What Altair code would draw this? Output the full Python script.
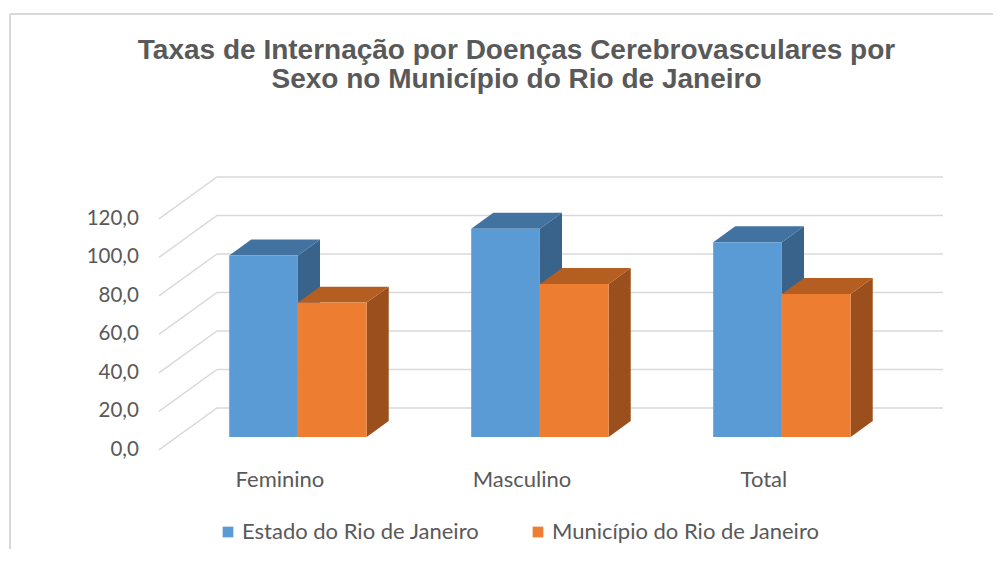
import altair as alt
import pandas as pd

# ---------------- data ----------------
categories = ["Feminino", "Masculino", "Total"]
series_names = ["Estado do Rio de Janeiro", "Município do Rio de Janeiro"]
estado = [94.3, 108.2, 101.2]
municipio = [69.8, 79.5, 74.3]
tick_values = [0, 20, 40, 60, 80, 100, 120]
tick_labels = ["0,0", "20,0", "40,0", "60,0", "80,0", "100,0", "120,0"]
title_lines = ["Taxas de Internação por Doenças Cerebrovasculares por",
               "Sexo no Município do Rio de Janeiro"]

# ---------------- styling / projection ----------------
front_colors = ["#5B9BD5", "#ED7D31"]
top_colors = ["#4272A0", "#B45E21"]
side_colors = ["#39638A", "#9A4F1D"]
TEXT = "#595959"
GRID = "#D9D9D9"
W, H = 983, 535

DX = 0.24      # horizontal shift (category-slot units) per unit of depth
DY = 21.8      # vertical shift (value units) per unit of depth
Z_FRONT = 0.69
Z_BACK = 0.31
BAR_W = 0.284
WALL_RIGHT = 3.0


def px(s, z):
    return s - DX * z


def py(v, z):
    return v - DY * z


xs = alt.Scale(domain=[-207 / 242, (W - 207) / 242], nice=False, zero=False)
ys = alt.Scale(domain=[(394 - H) / 1.925, 394 / 1.925], nice=False, zero=False)

front_rows, side_rows, top_rows = [], [], []
for si, (name, vals) in enumerate(zip(series_names, [estado, municipio])):
    for ci, (cat, v) in enumerate(zip(categories, vals)):
        bid = f"{si}-{ci}"
        x1 = ci + 0.5 - BAR_W if si == 0 else ci + 0.5
        x2 = x1 + BAR_W
        front_rows.append(dict(series=name, category=cat, value=v,
                               x=px(x1, Z_FRONT), x2=px(x2, Z_FRONT),
                               y=py(0, Z_FRONT), y2=py(v, Z_FRONT)))
        # right side face
        side_rows.append(dict(bar=bid, fill=side_colors[si], x=px(x2, Z_FRONT),
                              y=py(0, Z_FRONT), y2=py(v, Z_FRONT)))
        side_rows.append(dict(bar=bid, fill=side_colors[si], x=px(x2, Z_BACK),
                              y=py(0, Z_BACK), y2=py(v, Z_BACK)))
        # top face
        tf, tb = py(v, Z_FRONT), py(v, Z_BACK)
        top_rows.append(dict(bar=bid, fill=top_colors[si], x=px(x1, Z_FRONT), y=tf, y2=tf))
        top_rows.append(dict(bar=bid, fill=top_colors[si], x=px(x1, Z_BACK), y=tf, y2=tb))
        top_rows.append(dict(bar=bid, fill=top_colors[si], x=px(x2, Z_FRONT), y=tf, y2=tb))
        top_rows.append(dict(bar=bid, fill=top_colors[si], x=px(x2, Z_BACK), y=tb, y2=tb))

grid_rows = []
for t in tick_values:
    grid_rows.append(dict(tick=t, ord=0, x=px(0, 1), y=py(t, 1)))
    grid_rows.append(dict(tick=t, ord=1, x=0, y=t))
    grid_rows.append(dict(tick=t, ord=2, x=WALL_RIGHT, y=t))

ylab_df = pd.DataFrame(dict(label=tick_labels,
                            x=[px(0, 1)] * len(tick_values),
                            y=[py(t, 1) for t in tick_values]))
cat_df = pd.DataFrame(dict(category=categories,
                           x=[px(i + 0.5, 1) for i in range(len(categories))]))

front_df = pd.DataFrame(front_rows)
side_df = pd.DataFrame(side_rows)
top_df = pd.DataFrame(top_rows)
grid_df = pd.DataFrame(grid_rows)
one = pd.DataFrame({"k": [0]})

X = lambda f="x:Q": alt.X(f, scale=xs, axis=None)
Y = lambda f="y:Q": alt.Y(f, scale=ys, axis=None, stack=None)

border_top = alt.Chart(one).mark_rule(color=GRID, strokeWidth=2).encode(
    x=alt.value(0), x2=alt.value(W), y=alt.value(0))
border_left = alt.Chart(one).mark_rule(color=GRID, strokeWidth=2).encode(
    x=alt.value(0), y=alt.value(0), y2=alt.value(H))

grid = alt.Chart(grid_df).mark_line(color=GRID, strokeWidth=1.5).encode(
    x=X(), y=Y(), detail="tick:N", order="ord:Q")

sides = alt.Chart(side_df).mark_area(orient="vertical", interpolate="linear").encode(
    x=X(), y=Y(), y2="y2:Q", detail="bar:N", fill=alt.Fill("fill:N", scale=None))

tops = alt.Chart(top_df).mark_area(orient="vertical", interpolate="linear").encode(
    x=X(), y=Y(), y2="y2:Q", detail="bar:N", fill=alt.Fill("fill:N", scale=None))

fronts = alt.Chart(front_df).mark_rect().encode(
    x=X(), x2="x2:Q", y=Y(), y2="y2:Q",
    color=alt.Color("series:N",
                    scale=alt.Scale(domain=series_names, range=front_colors),
                    legend=alt.Legend(orient="none", legendX=207, legendY=507,
                                      direction="horizontal", columns=2, title=None,
                                      symbolType="square", symbolSize=115,
                                      symbolStrokeWidth=0, labelFont="Lato",
                                      labelFontSize=22, labelColor=TEXT,
                                      labelLimit=600,
                                      columnPadding=47, labelOffset=3)),
    tooltip=["category:N", "series:N", "value:Q"])

ylabels = alt.Chart(ylab_df).mark_text(
    align="right", baseline="middle", dx=-20, dy=0,
    font="Lato", fontSize=20.5, color=TEXT).encode(x=X(), y=Y(), text="label:N")

xlabels = alt.Chart(cat_df).mark_text(
    align="center", baseline="middle", font="Lato", fontSize=22, color=TEXT).encode(
    x=X(), y=alt.value(466), text="category:N")

chart = alt.layer(border_top, border_left, grid, sides, tops, fronts,
                  ylabels, xlabels).properties(
    width=W, height=H,
    autosize=alt.AutoSizeParams(type="none"),
    padding={"left": 2, "top": 6, "right": 0, "bottom": 0},
    title=alt.TitleParams(text=title_lines, font="Liberation Sans", fontSize=28,
                          fontWeight="bold", color=TEXT, anchor="middle",
                          offset=-81, lineHeight=29, dx=15),
).configure_view(stroke=None).configure(background="white")

chart.save("out.html", embed_options={"renderer": "svg", "actions": False})
